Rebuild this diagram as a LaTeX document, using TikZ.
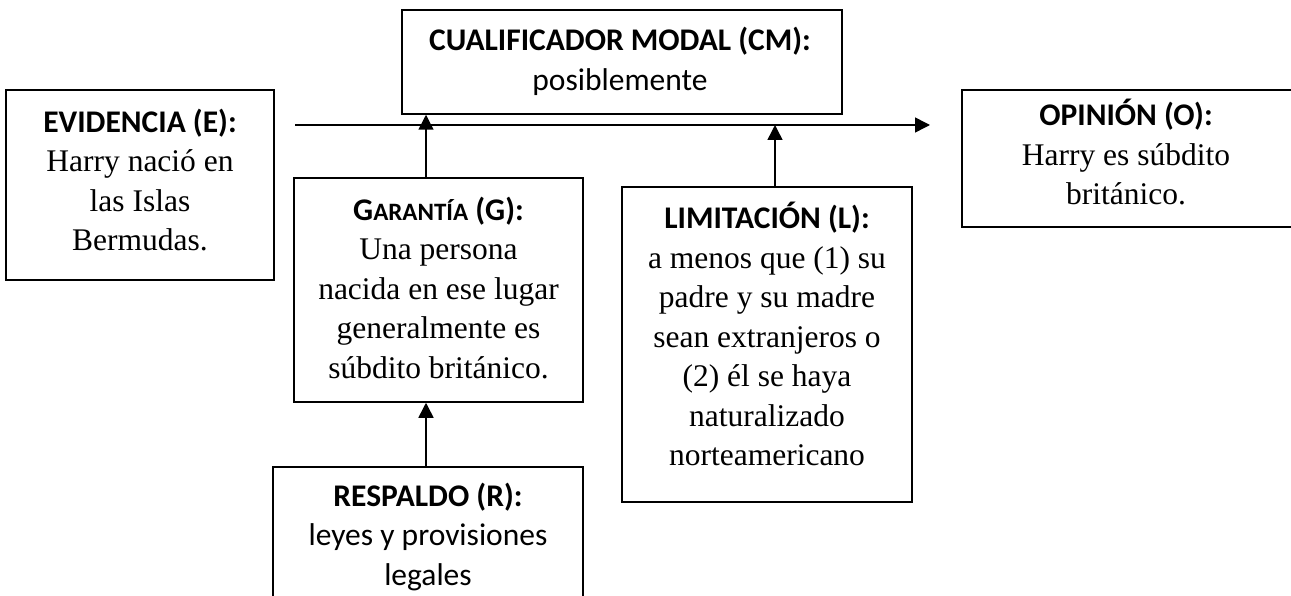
\documentclass[tikz,border=0pt]{standalone}
\usepackage{fontspec}
\setmainfont{Liberation Serif}
\newfontfamily\calib{Carlito}
\usetikzlibrary{arrows.meta}
\begin{document}
\begin{tikzpicture}[x=1pt,y=-1pt,
  box/.style={draw, line width=1.5pt, inner sep=0pt},
  openbox/.style={inner sep=0pt},
  edge/.style={line width=1.5pt},
  txt/.style={align=center, inner sep=0pt, font=\fontsize{31.5}{39.5}\selectfont},
  arr/.style={line width=1.5pt, -{Triangle[width=15pt,length=15pt]}}]
\useasboundingbox (0,0) rectangle (1291,596);
\clip (0,0) rectangle (1291,596);
% boxes
\node[box, minimum width=268pt, minimum height=190pt] (E) at (140,185) {};
\node[box, minimum width=440pt, minimum height=104pt] (CM) at (622,62) {};
\node[box, minimum width=289pt, minimum height=224pt] (G) at (438.5,290) {};
\node[box, minimum width=310pt, minimum height=150pt] (R) at (428,542) {};
\node[box, minimum width=290pt, minimum height=315pt] (L) at (767,344.5) {};
\node[openbox, minimum width=340pt, minimum height=137pt] (O) at (1132,158.5) {};
\draw[edge] (O.north east) -- (O.north west) -- (O.south west) -- (O.south east);
% texts
\node[txt] (Et) at (140,180) {{\calib\bfseries EVIDENCIA (E):}\\Harry nació en\\las Islas\\Bermudas.};
\node[txt] (CMt) at (620,61.5) {{\calib\bfseries CUALIFICADOR MODAL (CM):}\\{\calib posiblemente}};
\node[txt] (Gt) at (438.5,288) {{\calib\bfseries G{\fontsize{25}{39.5}\selectfont ARANTÍA} (G):}\\Una persona\\nacida en ese lugar\\generalmente es\\súbdito británico.};
\node[txt] (Rt) at (428,537) {{\calib\bfseries RESPALDO (R):}\\{\calib leyes y provisiones}\\{\calib legales}};
\node[txt] (Lt) at (767,334) {{\calib\bfseries LIMITACIÓN (L):}\\a menos que (1) su\\padre y su madre\\sean extranjeros o\\(2) él se haya\\naturalizado\\norteamericano};
\node[txt] (Ot) at (1126,152) {{\calib\bfseries OPINIÓN (O):}\\Harry es súbdito\\británico.};
% connectors
\coordinate (hs) at (295,125);
\coordinate (he) at (930,125);
\coordinate (gx) at (426,0);
\coordinate (lx) at (775,0);
\draw[arr] (hs) -- (he);
\draw[arr] (gx |- G.north) -- (gx |- CM.south);
\draw[arr] (gx |- R.north) -- (gx |- G.south);
\draw[arr] (lx |- L.north) -- (lx |- hs);
\end{tikzpicture}
\end{document}
